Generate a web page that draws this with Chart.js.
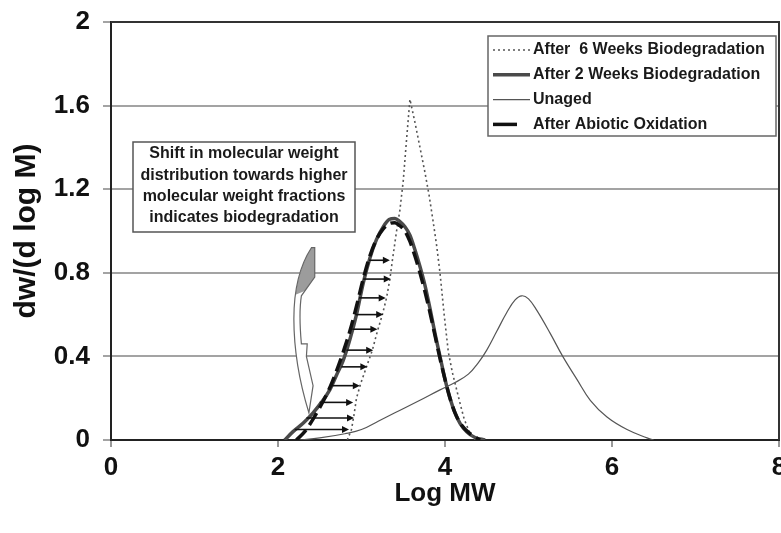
<!DOCTYPE html>
<html>
<head>
<meta charset="utf-8">
<script src="https://cdn.jsdelivr.net/npm/chart.js@4/dist/chart.umd.min.js"></script>
<style>
html, body { margin: 0; padding: 0; background: #fff; }
#wrap { width: 781px; height: 533px; }
</style>
</head>
<body>
<div id="wrap"><canvas id="gpcChart" width="781" height="533"></canvas></div>
<script>
const xTicks = [0, 2, 4, 6, 8];
const yTicks = [0, 0.4, 0.8, 1.2, 1.6, 2];
const seriesNames = ['After  6 Weeks Biodegradation', 'After 2 Weeks Biodegradation', 'Unaged', 'After Abiotic Oxidation'];

const week6X = [2.83, 2.88, 2.91, 2.94, 2.99, 3.06, 3.13, 3.19, 3.25, 3.30, 3.34, 3.37, 3.42, 3.46, 3.50, 3.54, 3.58, 3.64, 3.70, 3.76, 3.81, 3.86, 3.90, 3.94, 3.99, 4.04, 4.09, 4.14, 4.19, 4.23, 4.29, 4.36];
const week6Y = [0, 0.05, 0.12, 0.20, 0.27, 0.35, 0.43, 0.52, 0.60, 0.68, 0.77, 0.86, 1.00, 1.10, 1.24, 1.44, 1.63, 1.52, 1.40, 1.28, 1.17, 1.04, 0.93, 0.80, 0.60, 0.42, 0.32, 0.24, 0.16, 0.10, 0.04, 0];

const week2X = [2.08, 2.18, 2.30, 2.42, 2.52, 2.62, 2.70, 2.78, 2.86, 2.94, 3.02, 3.10, 3.18, 3.26, 3.33, 3.40, 3.46, 3.52, 3.58, 3.64, 3.70, 3.76, 3.82, 3.88, 3.94, 4.00, 4.06, 4.12, 4.18, 4.26, 4.36, 4.48];
const week2Y = [0, 0.04, 0.08, 0.13, 0.18, 0.24, 0.31, 0.38, 0.48, 0.60, 0.75, 0.87, 0.96, 1.02, 1.055, 1.06, 1.045, 1.02, 0.98, 0.91, 0.83, 0.74, 0.63, 0.51, 0.40, 0.29, 0.20, 0.13, 0.08, 0.04, 0.012, 0];

const unagedX = [2.25, 2.5, 2.8, 3.0, 3.2, 3.4, 3.7, 3.94, 4.12, 4.28, 4.40, 4.50, 4.62, 4.74, 4.84, 4.92, 5.0, 5.10, 5.26, 5.41, 5.58, 5.74, 5.94, 6.18, 6.42, 6.5];
const unagedY = [0, 0.01, 0.03, 0.05, 0.09, 0.13, 0.19, 0.24, 0.275, 0.315, 0.37, 0.43, 0.52, 0.61, 0.67, 0.69, 0.675, 0.62, 0.51, 0.40, 0.29, 0.19, 0.11, 0.05, 0.01, 0];

const abioticX = [2.22, 2.32, 2.42, 2.52, 2.62, 2.70, 2.78, 2.86, 2.94, 3.02, 3.10, 3.18, 3.26, 3.33, 3.40, 3.46, 3.52, 3.58, 3.64, 3.70, 3.76, 3.82, 3.88, 3.94, 4.00, 4.06, 4.12, 4.20, 4.30, 4.42];
const abioticY = [0, 0.04, 0.10, 0.17, 0.25, 0.33, 0.42, 0.52, 0.64, 0.77, 0.88, 0.96, 1.01, 1.035, 1.04, 1.025, 1.0, 0.95, 0.88, 0.80, 0.71, 0.61, 0.50, 0.39, 0.29, 0.20, 0.13, 0.07, 0.03, 0];

// shift arrows: from the 2-week curve to the 6-week curve
const arrowY = [0.86, 0.77, 0.68, 0.60, 0.53, 0.43, 0.35, 0.26, 0.18, 0.105, 0.05];
const arrowFromX = [3.09, 3.02, 2.97, 2.93, 2.89, 2.82, 2.76, 2.64, 2.50, 2.34, 2.20];
const arrowToX = [3.34, 3.35, 3.29, 3.26, 3.19, 3.14, 3.07, 2.98, 2.90, 2.91, 2.85];

const noteLines = ['Shift in molecular weight', 'distribution towards higher', 'molecular weight fractions', 'indicates biodegradation'];

const FONT = 'Arial, "Liberation Sans", sans-serif';
const toPoints = (xs, ys) => xs.map((x, i) => ({ x: x, y: ys[i] }));

const extras = {
    id: 'extras',
    afterDatasetsDraw(chart) {
        const ctx = chart.ctx;
        const sx = chart.scales.x, sy = chart.scales.y;
        const P = (x, y) => [sx.getPixelForValue(x), sy.getPixelForValue(y)];

        // horizontal arrows
        ctx.save();
        ctx.strokeStyle = '#111';
        ctx.fillStyle = '#111';
        ctx.lineWidth = 1.6;
        arrowY.forEach((v, i) => {
            const [x0, y] = P(arrowFromX[i], v);
            const x1 = sx.getPixelForValue(arrowToX[i]);
            ctx.beginPath();
            ctx.moveTo(x0, y);
            ctx.lineTo(x1 - 5, y);
            ctx.stroke();
            ctx.beginPath();
            ctx.moveTo(x1, y);
            ctx.lineTo(x1 - 7, y - 3.5);
            ctx.lineTo(x1 - 7, y + 3.5);
            ctx.closePath();
            ctx.fill();
        });

        // curved block arrow (left of the peak)
        const path = () => {
            ctx.beginPath();
            ctx.moveTo(...P(2.40, 0.92));
            ctx.bezierCurveTo(...P(2.27, 0.84), ...P(2.19, 0.72), ...P(2.19, 0.58));
            ctx.bezierCurveTo(...P(2.19, 0.42), ...P(2.27, 0.26), ...P(2.37, 0.13));
            ctx.lineTo(...P(2.42, 0.26));
            ctx.lineTo(...P(2.34, 0.40));
            ctx.lineTo(...P(2.35, 0.46));
            ctx.lineTo(...P(2.28, 0.46));
            ctx.bezierCurveTo(...P(2.26, 0.55), ...P(2.26, 0.64), ...P(2.28, 0.69));
            ctx.lineTo(...P(2.44, 0.78));
            ctx.lineTo(...P(2.44, 0.92));
            ctx.closePath();
        };
        ctx.fillStyle = '#fff';
        path();
        ctx.fill();
        ctx.save();
        ctx.beginPath();
        ctx.moveTo(...P(2.0, 0.66));
        ctx.lineTo(...P(2.6, 0.76));
        ctx.lineTo(...P(2.6, 1.0));
        ctx.lineTo(...P(2.0, 1.0));
        ctx.closePath();
        ctx.clip();
        ctx.fillStyle = '#9c9c9c';
        path();
        ctx.fill();
        ctx.restore();
        ctx.strokeStyle = '#666';
        ctx.lineWidth = 1.2;
        path();
        ctx.stroke();
        ctx.restore();
    },
    afterDraw(chart) {
        const ctx = chart.ctx;
        const a = chart.chartArea;
        ctx.save();

        // top and right frame
        ctx.strokeStyle = '#333';
        ctx.lineWidth = 2;
        ctx.beginPath();
        ctx.moveTo(a.left, a.top);
        ctx.lineTo(a.right, a.top);
        ctx.lineTo(a.right, a.bottom);
        ctx.stroke();

        // note box
        ctx.fillStyle = '#fff';
        ctx.fillRect(133, 142, 222, 90);
        ctx.strokeStyle = '#555';
        ctx.lineWidth = 1.5;
        ctx.strokeRect(133, 142, 222, 90);
        ctx.fillStyle = '#1a1a1a';
        ctx.font = 'bold 16px ' + FONT;
        ctx.textAlign = 'center';
        ctx.textBaseline = 'middle';
        noteLines.forEach((t, i) => ctx.fillText(t, 244, 154 + i * 21.3));

        // legend
        const lx = 488, ly = 36;
        ctx.fillStyle = '#fff';
        ctx.fillRect(lx, ly, 288, 100);
        ctx.strokeStyle = '#666';
        ctx.lineWidth = 1.5;
        ctx.strokeRect(lx, ly, 288, 100);
        ctx.textAlign = 'left';
        ctx.font = 'bold 16px ' + FONT;
        chart.data.datasets.forEach((ds, i) => {
            const y = ly + 14 + i * 24.8;
            const dash = ds.borderDash || [];
            ctx.strokeStyle = ds.borderColor;
            ctx.lineWidth = ds.borderWidth;
            ctx.beginPath();
            if (dash.length && dash[0] > 5) {
                ctx.setLineDash([]);
                ctx.moveTo(lx + 5, y);
                ctx.lineTo(lx + 29, y);
            } else {
                ctx.setLineDash(dash);
                ctx.moveTo(lx + 5, y);
                ctx.lineTo(lx + 42, y);
            }
            ctx.stroke();
            ctx.setLineDash([]);
            ctx.fillStyle = '#1a1a1a';
            ctx.fillText(ds.label, lx + 45, y);
        });
        ctx.restore();
    }
};

const ctx = document.getElementById('gpcChart').getContext('2d');
const chart = new Chart(ctx, {
    type: 'line',
    data: {
        datasets: [
            { label: seriesNames[0], data: toPoints(week6X, week6Y), borderColor: '#555', borderWidth: 1.6, borderDash: [2, 3], tension: 0, order: 1 },
            { label: seriesNames[1], data: toPoints(week2X, week2Y), borderColor: '#4a4a4a', borderWidth: 3.5, cubicInterpolationMode: 'monotone', order: 2 },
            { label: seriesNames[2], data: toPoints(unagedX, unagedY), borderColor: '#555', borderWidth: 1.2, tension: 0.4, order: 3 },
            { label: seriesNames[3], data: toPoints(abioticX, abioticY), borderColor: '#111', borderWidth: 3.5, borderDash: [14, 6], cubicInterpolationMode: 'monotone', order: 0 }
        ]
    },
    options: {
        responsive: false,
        animation: false,
        devicePixelRatio: 1,
        elements: { point: { radius: 0 } },
        layout: { padding: { left: 0, top: 22, right: 2, bottom: 0 } },
        plugins: { legend: { display: false }, tooltip: { enabled: false } },
        scales: {
            x: {
                type: 'linear',
                min: 0,
                max: 8,
                afterBuildTicks: s => { s.ticks = xTicks.map(v => ({ value: v })); },
                afterFit: s => { s.height = 93; s.paddingLeft = 0; s.paddingRight = 0; },
                grid: { drawOnChartArea: false, tickLength: 7, tickColor: '#999', lineWidth: 2 },
                border: { color: '#222', width: 2 },
                ticks: { color: '#111', padding: 5, maxRotation: 0, autoSkip: false, font: { family: FONT, size: 26, weight: 'bold' }, callback: v => String(v) },
                title: { display: true, text: 'Log MW', color: '#111', font: { family: FONT, size: 26, weight: 'bold' }, padding: { top: 0, bottom: 24 } }
            },
            y: {
                type: 'linear',
                min: 0,
                max: 2,
                afterBuildTicks: s => { s.ticks = yTicks.map(v => ({ value: v })); },
                afterFit: s => { s.width = 111; s.paddingTop = 0; s.paddingBottom = 0; },
                grid: { color: '#a3a3a3', lineWidth: 2, tickLength: 8, tickColor: '#a3a3a3' },
                border: { color: '#222', width: 2 },
                ticks: { color: '#111', padding: 13, font: { family: FONT, size: 26, weight: 'bold' }, callback: v => String(v) },
                title: { display: true, text: 'dw/(d log M)', color: '#111', font: { family: FONT, size: 30, weight: 'bold' }, padding: { top: 9, bottom: 0 } }
            }
        }
    },
    plugins: [extras]
});
</script>
</body>
</html>
